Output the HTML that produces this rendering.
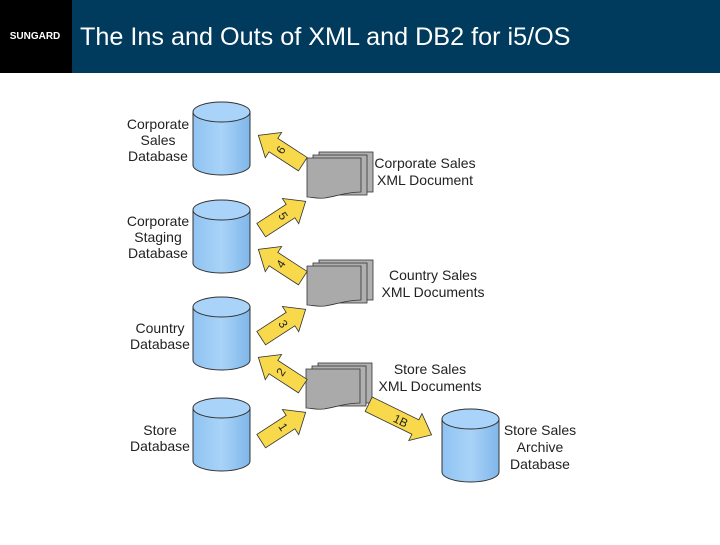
<!DOCTYPE html>
<html><head><style>
body{margin:0;width:720px;height:540px;background:#fff;overflow:hidden;font-family:"Liberation Sans",sans-serif}
</style></head><body>
<svg width="720" height="540" xmlns="http://www.w3.org/2000/svg" font-family="Liberation Sans, sans-serif">
<defs>
<linearGradient id="cg" x1="0" x2="1"><stop offset="0" stop-color="#8fc3f2"/><stop offset="0.5" stop-color="#a9d3f8"/><stop offset="1" stop-color="#7fb6ea"/></linearGradient>
<g id="cyl">
<path d="M0,10 L0,63 A28.5,10 0 0 0 57,63 L57,10" fill="url(#cg)" stroke="#333" stroke-width="1"/>
<ellipse cx="28.5" cy="10" rx="28.5" ry="10" fill="#a9d3f8" stroke="#333" stroke-width="1"/>
</g>
<g id="doc">
<rect x="12" y="0" width="54" height="40" fill="#b0b0b0" stroke="#333" stroke-width="0.8"/>
<rect x="6" y="3" width="54" height="40" fill="#b0b0b0" stroke="#333" stroke-width="0.8"/>
<path d="M0,6 L54,6 L54,40 C40,40 30,44 18,46 C10,47 5,45 0,45 Z" fill="#aaa" stroke="#333" stroke-width="0.8"/>
</g>
<polygon id="arr" points="-26,-8 9,-8 9,-15 27,0 9,15 9,8 -26,8" fill="#f8d94c" stroke="#333" stroke-width="0.8"/>
</defs>
<rect x="0" y="0" width="720" height="73" fill="#003a5c"/>
<rect x="0" y="0" width="72" height="73" fill="#000"/>
<text x="35" y="39" font-size="10" font-weight="bold" fill="#fff" text-anchor="middle">SUNGARD</text>
<text x="80" y="45" font-size="25.2" fill="#fff">The Ins and Outs of XML and DB2 for i5/OS</text>

<use href="#cyl" x="193" y="102"/>
<use href="#cyl" x="193" y="200"/>
<use href="#cyl" x="193" y="297"/>
<use href="#cyl" x="193" y="398"/>
<use href="#cyl" x="442" y="409"/>

<use href="#doc" x="307" y="152"/>
<use href="#doc" x="307" y="260"/>
<use href="#doc" x="306" y="363"/>

<g font-size="14" fill="#222" text-anchor="middle">
<text x="158" y="129">Corporate</text><text x="158" y="145">Sales</text><text x="158" y="161">Database</text>
<text x="158" y="226">Corporate</text><text x="158" y="242">Staging</text><text x="158" y="258">Database</text>
<text x="160" y="333">Country</text><text x="160" y="349">Database</text>
<text x="160" y="435">Store</text><text x="160" y="451">Database</text>
<text x="425" y="168">Corporate Sales</text><text x="425" y="185">XML Document</text>
<text x="433" y="280">Country Sales</text><text x="433" y="297">XML Documents</text>
<text x="430" y="374">Store Sales</text><text x="430" y="391">XML Documents</text>
<text x="540" y="435">Store Sales</text><text x="540" y="452">Archive</text><text x="540" y="469">Database</text>
</g>

<g font-size="12" fill="#222" text-anchor="middle">
<g transform="translate(283,427) rotate(-33)"><use href="#arr"/><text transform="rotate(90)" y="4">1</text></g>
<g transform="translate(281,372) rotate(-147)"><use href="#arr"/><text transform="rotate(90)" y="4">2</text></g>
<g transform="translate(283,324) rotate(-33)"><use href="#arr"/><text transform="rotate(90)" y="4">3</text></g>
<g transform="translate(281,264) rotate(-147)"><use href="#arr"/><text transform="rotate(90)" y="4">4</text></g>
<g transform="translate(283,216) rotate(-33)"><use href="#arr"/><text transform="rotate(90)" y="4">5</text></g>
<g transform="translate(281,150) rotate(-147)"><use href="#arr"/><text transform="rotate(90)" y="4">6</text></g>
<g transform="translate(401,420) rotate(26)"><polygon points="-36,-8 16,-8 16,-15 34,0 16,15 16,8 -36,8" fill="#f8d94c" stroke="#333" stroke-width="0.8"/><text y="5">1B</text></g>
</g>
</svg>
</body></html>
